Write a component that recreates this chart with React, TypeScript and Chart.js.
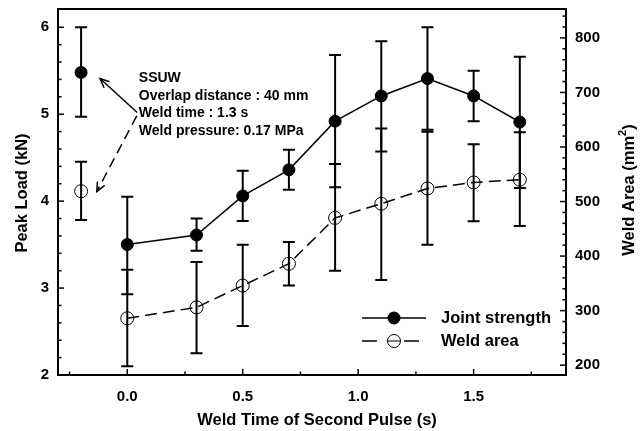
import { useEffect, useRef } from "react";
import { Chart, registerables } from "chart.js";

Chart.register(...registerables);

const FONT = '"Liberation Sans", Arial, Helvetica, sans-serif';

// Weld time of the second pulse (s)
const pulseTimes = [0, 0.3, 0.5, 0.7, 0.9, 1.1, 1.3, 1.5, 1.7];

// Joint strength, peak load (kN): mean with upper / lower error limits
const strengthMean = [3.5, 3.61, 4.06, 4.36, 4.92, 5.21, 5.41, 5.21, 4.91];
const strengthHigh = [4.05, 3.8, 4.35, 4.59, 5.68, 5.84, 6.0, 5.5, 5.66];
const strengthLow = [2.93, 3.43, 3.77, 4.13, 4.16, 4.57, 4.82, 4.92, 4.15];

// Weld area (mm²): mean with upper / lower error limits
const areaMean = [286, 306, 346, 386, 470, 496, 524, 535, 540];
const areaHigh = [375, 389, 421, 426, 569, 634, 628, 605, 627];
const areaLow = [198, 222, 272, 346, 373, 356, 421, 464, 455];

// Single-pulse (SSUW) reference point
const ssuwTime = [-0.2];
const ssuwStrength = [5.48];
const ssuwStrengthHigh = [6.0];
const ssuwStrengthLow = [4.97];
const ssuwArea = [519];
const ssuwAreaHigh = [573];
const ssuwAreaLow = [466];

// Axis ticks
const xTicks = [0, 0.5, 1.0, 1.5];
const leftTicks = [2, 3, 4, 5, 6];
const rightTicks = [200, 300, 400, 500, 600, 700, 800];

// Text
const seriesLabels = ["Joint strength", "Weld area"];
const xTitle = "Weld Time of Second Pulse (s)";
const leftTitle = "Peak Load (kN)";
const rightTitle = ["Weld Area (mm", "2", ")"];
const noteLines = [
  "SSUW",
  "Overlap distance : 40 mm",
  "Weld time : 1.3 s",
  "Weld pressure: 0.17 MPa",
];

const toPoints = (xs: number[], ys: number[]) => xs.map((x, i) => ({ x, y: ys[i] }));

const range = (from: number, to: number, step: number) => {
  const out: number[] = [];
  for (let v = from; v <= to + 1e-9; v += step) out.push(Math.round(v * 1000) / 1000);
  return out;
};

const errorBars = {
  id: "errorBars",
  beforeDatasetsDraw(chart: any) {
    const ctx = chart.ctx;
    chart.data.datasets.forEach((ds: any, i: number) => {
      if (!ds.errHigh) return;
      const meta = chart.getDatasetMeta(i);
      const ys = chart.scales[ds.yAxisID];
      ctx.save();
      ctx.strokeStyle = "#000";
      ctx.lineWidth = 2;
      ctx.setLineDash([]);
      meta.data.forEach((pt: any, j: number) => {
        const x = pt.x;
        const yh = ys.getPixelForValue(ds.errHigh[j]);
        const yl = ys.getPixelForValue(ds.errLow[j]);
        ctx.beginPath();
        ctx.moveTo(x, yh);
        ctx.lineTo(x, yl);
        ctx.moveTo(x - 6, yh);
        ctx.lineTo(x + 6, yh);
        ctx.moveTo(x - 6, yl);
        ctx.lineTo(x + 6, yl);
        ctx.stroke();
      });
      ctx.restore();
    });
  },
};

function arrow(ctx: CanvasRenderingContext2D, x0: number, y0: number, x1: number, y1: number, dash: number[]) {
  ctx.save();
  ctx.strokeStyle = "#000";
  ctx.lineWidth = 1.5;
  ctx.setLineDash(dash);
  ctx.beginPath();
  ctx.moveTo(x0, y0);
  ctx.lineTo(x1, y1);
  ctx.stroke();
  ctx.setLineDash([]);
  const a = Math.atan2(y1 - y0, x1 - x0);
  const L = 10;
  const s = 0.42;
  ctx.beginPath();
  ctx.moveTo(x1 - L * Math.cos(a - s), y1 - L * Math.sin(a - s));
  ctx.lineTo(x1, y1);
  ctx.lineTo(x1 - L * Math.cos(a + s), y1 - L * Math.sin(a + s));
  ctx.stroke();
  ctx.restore();
}

const decorations = {
  id: "decorations",
  afterDraw(chart: any) {
    const ctx: CanvasRenderingContext2D = chart.ctx;
    const { left, right, top, bottom } = chart.chartArea;
    const sx = chart.scales.x;
    const sy = chart.scales.y;
    const sy1 = chart.scales.y1;
    ctx.save();
    ctx.strokeStyle = "#000";
    ctx.fillStyle = "#000";

    // frame
    ctx.lineWidth = 2;
    ctx.strokeRect(left, top, right - left, bottom - top);

    // inward tick marks
    ctx.lineWidth = 1.5;
    const tick = (x0: number, y0: number, x1: number, y1: number) => {
      ctx.beginPath();
      ctx.moveTo(x0, y0);
      ctx.lineTo(x1, y1);
      ctx.stroke();
    };
    range(-0.25, 1.75, 0.25).forEach((v) => {
      const px = sx.getPixelForValue(v);
      const major = Math.abs(v * 2 - Math.round(v * 2)) < 1e-6;
      tick(px, bottom, px, bottom - (major ? 6 : 3.5));
    });
    range(2.2, 6.0, 0.2).forEach((v) => {
      const py = sy.getPixelForValue(v);
      const major = Math.abs(v - Math.round(v)) < 1e-6;
      tick(left, py, left + (major ? 6 : 3.5), py);
    });
    range(200, 840, 20).forEach((v) => {
      const py = sy1.getPixelForValue(v);
      const major = v % 100 === 0;
      tick(right, py, right - (major ? 6 : 3.5), py);
    });

    // axis titles
    ctx.font = `bold 16.5px ${FONT}`;
    ctx.textAlign = "center";
    ctx.textBaseline = "middle";
    ctx.fillText(xTitle, (left + right) / 2 + 5, 420);

    ctx.save();
    ctx.translate(22, (top + bottom) / 2 + 1);
    ctx.rotate(-Math.PI / 2);
    ctx.fillText(leftTitle, 0, 0);
    ctx.restore();

    ctx.save();
    ctx.translate(629, (top + bottom) / 2 - 2);
    ctx.rotate(-Math.PI / 2);
    const big = `bold 16.5px ${FONT}`;
    const small = `bold 11px ${FONT}`;
    ctx.font = big;
    const w0 = ctx.measureText(rightTitle[0]).width;
    const w2 = ctx.measureText(rightTitle[2]).width;
    ctx.font = small;
    const w1 = ctx.measureText(rightTitle[1]).width;
    let cx = -(w0 + w1 + w2) / 2;
    ctx.textAlign = "left";
    ctx.font = big;
    ctx.fillText(rightTitle[0], cx, 0);
    cx += w0;
    ctx.font = small;
    ctx.fillText(rightTitle[1], cx, -6);
    cx += w1;
    ctx.font = big;
    ctx.fillText(rightTitle[2], cx, 0);
    ctx.restore();

    // legend
    const lx = right - 204;
    const rows = [bottom - 57, bottom - 34];
    ctx.lineWidth = 1.5;
    ctx.setLineDash([]);
    tick(lx, rows[0], lx + 64, rows[0]);
    ctx.beginPath();
    ctx.arc(lx + 32, rows[0], 6.5, 0, Math.PI * 2);
    ctx.fill();
    tick(lx, rows[1], lx + 15, rows[1]);
    tick(lx + 42, rows[1], lx + 57, rows[1]);
    ctx.lineWidth = 1;
    ctx.beginPath();
    ctx.arc(lx + 32, rows[1], 6.5, 0, Math.PI * 2);
    ctx.stroke();
    ctx.beginPath();
    ctx.moveTo(lx + 25.5, rows[1]);
    ctx.lineTo(lx + 38.5, rows[1]);
    ctx.stroke();
    ctx.font = `bold 16.5px ${FONT}`;
    ctx.textAlign = "left";
    ctx.fillText(seriesLabels[0], lx + 79, rows[0]);
    ctx.fillText(seriesLabels[1], lx + 79, rows[1]);

    // SSUW note
    ctx.font = `bold 14px ${FONT}`;
    const nx = sx.getPixelForValue(0.05);
    const ny = sy.getPixelForValue(5.41);
    noteLines.forEach((t, i) => ctx.fillText(t, nx, ny + i * 17.4));

    arrow(ctx, sx.getPixelForValue(0.043), sy.getPixelForValue(5.02), sx.getPixelForValue(-0.118), sy.getPixelForValue(5.41), []);
    arrow(ctx, sx.getPixelForValue(0.041), sy.getPixelForValue(4.98), sx.getPixelForValue(-0.132), sy.getPixelForValue(4.11), [10, 6]);

    ctx.restore();
  },
};

export default function App() {
  const ref = useRef<HTMLCanvasElement | null>(null);

  useEffect(() => {
    if (!ref.current) return;
    Chart.defaults.font.family = FONT;
    Chart.defaults.color = "#000";

    const solidPoint = {
      pointRadius: 6,
      pointBorderWidth: 1,
      pointBackgroundColor: "#000",
      pointBorderColor: "#000",
    };
    const openPoint = {
      pointRadius: 6.5,
      pointBorderWidth: 1,
      pointBackgroundColor: "rgba(0,0,0,0)",
      pointBorderColor: "#000",
    };

    const noPad = (s: any) => {
      s.paddingTop = 0;
      s.paddingBottom = 0;
      s.paddingLeft = 0;
      s.paddingRight = 0;
    };

    const chart = new Chart(ref.current, {
      type: "scatter",
      data: {
        datasets: [
          {
            label: seriesLabels[0],
            data: toPoints(pulseTimes, strengthMean),
            errHigh: strengthHigh,
            errLow: strengthLow,
            yAxisID: "y",
            showLine: true,
            borderColor: "#000",
            borderWidth: 1.5,
            ...solidPoint,
          } as any,
          {
            label: seriesLabels[1],
            data: toPoints(pulseTimes, areaMean),
            errHigh: areaHigh,
            errLow: areaLow,
            yAxisID: "y1",
            showLine: true,
            borderColor: "#000",
            borderWidth: 1.5,
            borderDash: [12, 6],
            ...openPoint,
          } as any,
          {
            label: "SSUW",
            data: toPoints(ssuwTime, ssuwStrength),
            errHigh: ssuwStrengthHigh,
            errLow: ssuwStrengthLow,
            yAxisID: "y",
            showLine: false,
            ...solidPoint,
          } as any,
          {
            label: "SSUW",
            data: toPoints(ssuwTime, ssuwArea),
            errHigh: ssuwAreaHigh,
            errLow: ssuwAreaLow,
            yAxisID: "y1",
            showLine: false,
            ...openPoint,
          } as any,
        ],
      },
      options: {
        responsive: false,
        animation: false,
        devicePixelRatio: 1,
        layout: { padding: { top: 9, left: 0, right: 0, bottom: 0 } },
        plugins: { legend: { display: false }, tooltip: { enabled: false } },
        scales: {
          x: {
            type: "linear",
            min: -0.3,
            max: 1.9,
            grid: { display: false, drawTicks: false },
            border: { display: false },
            afterBuildTicks: (s: any) => {
              s.ticks = xTicks.map((value) => ({ value }));
            },
            afterFit: (s: any) => {
              s.height = 56;
              noPad(s);
            },
            ticks: {
              padding: 13,
              maxRotation: 0,
              font: { size: 15, weight: "bold" },
              color: "#000",
              callback: (v: any) => Number(v).toFixed(1),
            },
          },
          y: {
            type: "linear",
            position: "left",
            min: 2,
            max: 6.21,
            grid: { display: false, drawTicks: false },
            border: { display: false },
            afterBuildTicks: (s: any) => {
              s.ticks = leftTicks.map((value) => ({ value }));
            },
            afterFit: (s: any) => {
              s.width = 58;
              noPad(s);
            },
            ticks: {
              padding: 9,
              font: { size: 15, weight: "bold" },
              color: "#000",
              callback: (v: any) => String(v),
            },
          },
          y1: {
            type: "linear",
            position: "right",
            min: 182,
            max: 853,
            grid: { display: false, drawTicks: false },
            border: { display: false },
            afterBuildTicks: (s: any) => {
              s.ticks = rightTicks.map((value) => ({ value }));
            },
            afterFit: (s: any) => {
              s.width = 78;
              noPad(s);
            },
            ticks: {
              padding: 9,
              font: { size: 15, weight: "bold" },
              color: "#000",
              callback: (v: any) => String(v),
            },
          },
        },
      } as any,
      plugins: [errorBars, decorations],
    });

    return () => chart.destroy();
  }, []);

  return (
    <div style={{ position: "fixed", left: 0, top: 0, width: 644, height: 431, background: "#fff" }}>
      <canvas ref={ref} width={644} height={431} style={{ width: 644, height: 431, display: "block" }} />
    </div>
  );
}
